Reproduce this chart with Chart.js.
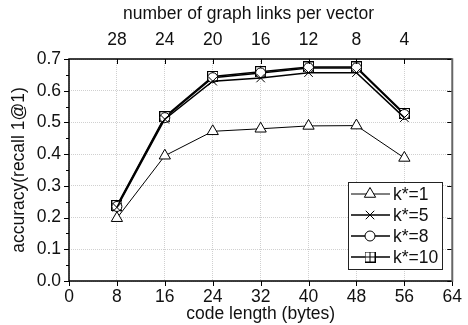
<!DOCTYPE html>
<html>
<head>
<meta charset="utf-8">
<script src="https://cdn.jsdelivr.net/npm/chart.js@4/dist/chart.umd.min.js"></script>
<style>
  html, body { margin: 0; padding: 0; background: #fff; }
  #wrap { width: 468px; height: 325px; position: relative; }
</style>
</head>
<body>
<div id="wrap"><canvas id="c"></canvas></div>
<script>
// code length in bytes (bottom axis) and accuracy per k*
const codeLen = [8, 16, 24, 32, 40, 48, 56];
const k1  = [0.198, 0.395, 0.472, 0.480, 0.489, 0.490, 0.388];
const k5  = [0.232, 0.510, 0.630, 0.640, 0.657, 0.657, 0.515];
const k8  = [0.235, 0.515, 0.641, 0.656, 0.672, 0.672, 0.525];
const k10 = [0.238, 0.518, 0.645, 0.660, 0.675, 0.675, 0.528];
const seriesLabels = ['k*=1', 'k*=5', 'k*=8', 'k*=10'];
const topTicks = [8, 16, 24, 32, 40, 48, 56]; // positions of "links per vector" ticks

const FONT = "'Liberation Sans', Arial, sans-serif";
Chart.defaults.font.family = FONT;
Chart.defaults.font.size = 17.5;
Chart.defaults.color = '#111';

// square with a plus inside, used for k*=10
function boxPlus() {
  const cv = document.createElement('canvas');
  cv.width = 11; cv.height = 11;
  const g = cv.getContext('2d');
  g.fillStyle = '#fff'; g.fillRect(0.5, 0.5, 10, 10);
  g.strokeStyle = '#000'; g.lineWidth = 1;
  g.strokeRect(0.5, 0.5, 10, 10);
  g.beginPath(); g.moveTo(5.5, 0.5); g.lineTo(5.5, 10.5); g.moveTo(0.5, 5.5); g.lineTo(10.5, 5.5); g.stroke();
  return cv;
}
const sqPlus = boxPlus();

const pts = arr => codeLen.map((x, i) => ({ x, y: arr[i] }));
const mk = (label, data, style, radius, width) => ({
  label, data: pts(data), borderColor: '#000', backgroundColor: '#fff',
  borderWidth: width, pointStyle: style, pointRadius: radius, pointHoverRadius: radius,
  pointBorderColor: '#000', pointBackgroundColor: '#fff', pointBorderWidth: 1, tension: 0,
});

// frame, ticks and the in-plot legend
const decor = {
  id: 'decor',
  afterDraw(chart) {
    const { ctx, chartArea: { left, right, top, bottom }, scales } = chart;
    ctx.save();
    ctx.lineCap = 'butt';
    ctx.strokeStyle = '#000'; ctx.lineWidth = 1;
    ctx.beginPath();
    for (let v = 0; v <= 0.7001; v += 0.05) {
      const y = Math.round(scales.y.getPixelForValue(v)) + 0.5;
      const major = Math.abs(v * 10 - Math.round(v * 10)) < 1e-6;
      ctx.moveTo(left, y); ctx.lineTo(left - (major ? 5 : 3), y);
      if (major) { ctx.moveTo(right, y); ctx.lineTo(right - 5, y); }
    }
    for (let v = 0; v <= 64; v += 8) {
      const x = Math.round(scales.x.getPixelForValue(v)) + 0.5;
      ctx.moveTo(x, bottom); ctx.lineTo(x, bottom + 5);
    }
    topTicks.forEach(v => {
      const x = Math.round(scales.x.getPixelForValue(v)) + 0.5;
      ctx.moveTo(x, top); ctx.lineTo(x, top + 5);
    });
    ctx.stroke();
    // frame
    ctx.lineWidth = 1.5; ctx.strokeStyle = '#000';
    ctx.beginPath();
    ctx.moveTo(right, top); ctx.lineTo(left, top); ctx.lineTo(left, bottom); ctx.lineTo(right, bottom);
    ctx.stroke();
    ctx.lineWidth = 2; ctx.strokeStyle = '#666';
    ctx.beginPath(); ctx.moveTo(right, top - 0.75); ctx.lineTo(right, bottom + 0.75); ctx.stroke();

    // legend box
    const lx = 348, ly = 182, lw = 94, lh = 87;
    ctx.fillStyle = '#fff'; ctx.fillRect(lx, ly, lw, lh);
    ctx.lineWidth = 1; ctx.strokeStyle = '#222';
    ctx.strokeRect(lx + 0.5, ly + 0.5, lw, lh);
    chart.data.datasets.forEach((ds, i) => {
      const y = ly + 12 + i * 21;
      ctx.strokeStyle = '#000'; ctx.lineWidth = ds.borderWidth;
      ctx.beginPath(); ctx.moveTo(lx + 3, y); ctx.lineTo(lx + 42, y); ctx.stroke();
      ctx.fillStyle = '#fff'; ctx.strokeStyle = '#000'; ctx.lineWidth = 1;
      Chart.helpers.drawPoint(ctx, {
        pointStyle: ds.pointStyle, radius: ds.pointRadius, borderWidth: 1, rotation: 0,
      }, lx + 22, y);
      ctx.fillStyle = '#111'; ctx.textAlign = 'left'; ctx.textBaseline = 'middle';
      ctx.font = '17.5px ' + FONT;
      ctx.fillText(ds.label, lx + 45, y + 1);
    });
    ctx.restore();
  },
};

new Chart(document.getElementById('c'), {
  type: 'line',
  data: {
    datasets: [
      mk(seriesLabels[0], k1, 'triangle', 6.5, 1),
      mk(seriesLabels[1], k5, 'crossRot', 6, 1.5),
      mk(seriesLabels[2], k8, 'circle', 5, 1.5),
      mk(seriesLabels[3], k10, sqPlus, 5, 1.5),
    ],
  },
  options: {
    responsive: true, maintainAspectRatio: false, animation: false,
    layout: { padding: 0 },
    plugins: { legend: { display: false }, tooltip: { enabled: false } },
    scales: {
      x: {
        type: 'linear', position: 'bottom', min: 0, max: 64,
        ticks: { stepSize: 8, padding: 6, maxRotation: 0 },
        grid: { color: '#d0d0d0', drawTicks: false, lineWidth: 1 },
        border: { display: false, dash: [1, 1] },
        title: { display: true, text: 'code length (bytes)', padding: { top: 0, bottom: 0 } },
        afterFit: s => { s.height = 44; },
      },
      x2: {
        type: 'linear', position: 'top', min: 0, max: 64,
        afterBuildTicks: s => { s.ticks = topTicks.map(v => ({ value: v })); },
        ticks: { padding: 8, maxRotation: 0, callback: v => String(32 - v / 2) },
        grid: { display: false, drawTicks: false },
        border: { display: false },
        // trailing spaces nudge the centred title left, as in the original
        title: { display: true, text: 'number of graph links per vector     ', padding: { top: 4, bottom: 0 } },
        afterFit: s => { s.height = 59; },
      },
      y: {
        type: 'linear', position: 'left', min: 0, max: 0.7,
        ticks: { stepSize: 0.1, padding: 8, callback: v => v.toFixed(1) },
        grid: { color: '#d0d0d0', drawTicks: false, lineWidth: 1 },
        border: { display: false, dash: [1, 1] },
        title: { display: true, text: 'accuracy(recall 1@1)', padding: { top: 9, bottom: 0 } },
        afterFit: s => { s.width = 69; },
      },
      y2: {
        type: 'linear', position: 'right', min: 0, max: 0.7,
        ticks: { display: false },
        grid: { display: false, drawTicks: false },
        border: { display: false },
        afterFit: s => { s.width = 15; },
      },
    },
  },
  plugins: [decor],
});
</script>
</body>
</html>
